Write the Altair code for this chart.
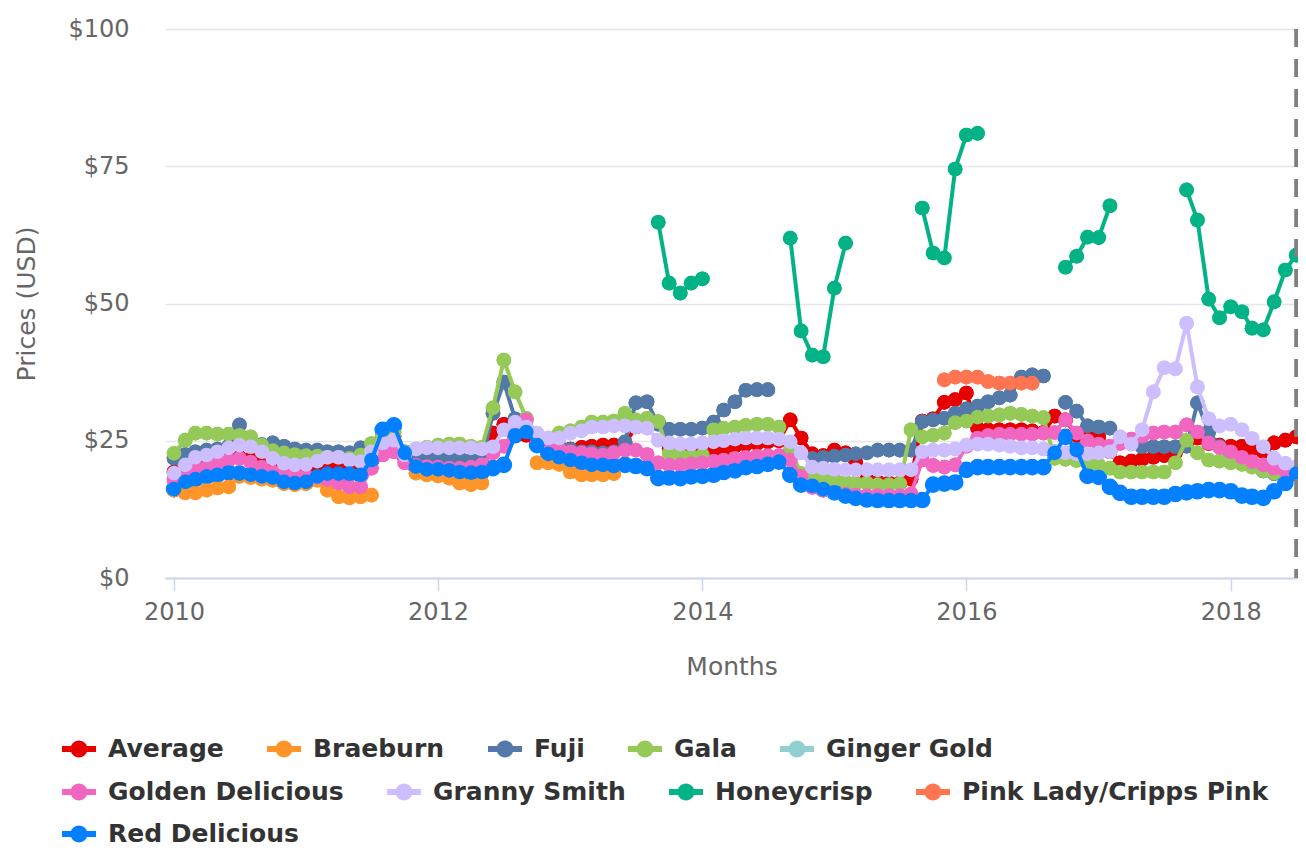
import altair as alt
import pandas as pd

# ---------------- data ----------------
start = pd.Timestamp("2010-01-01")
months = [(start + pd.DateOffset(months=i)).strftime("%Y-%m-%d") for i in range(103)]

series_names = ["Average", "Braeburn", "Fuji", "Gala", "Ginger Gold",
                "Golden Delicious", "Granny Smith", "Honeycrisp",
                "Pink Lady/Cripps Pink", "Red Delicious"]
series_colors = ["#e60000", "#ff9529", "#5279a8", "#95c958", "#90d0d0",
                 "#f066c0", "#cdbfff", "#03b385", "#ff7552", "#0380ff"]
legend_rows = [series_names[0:5], series_names[5:9], series_names[9:10]]

N = None
average = [
    19.3, 20.0, 20.8, 21.0, 21.3, 21.7, 22.0, 21.8, 21.2, 20.5, 20.0, 19.8,
    19.8, 20.0, 20.2, 20.2, 19.8, 19.8, 22.0, 25.5, 25.8, 21.8, 21.0, 21.0,
    21.0, 21.0, 21.0, 21.2, 21.5, 26.4, 28.0, 27.0, 26.0, 24.5, 23.5, 23.3,
    23.5, 23.8, 24.0, 24.2, 24.2, 24.5, 27.5, 28.0, 28.4, 23.5, 23.0, 22.8,
    22.8, 23.0, 23.5, 24.0, 24.3, 24.5, 24.8, 25.0, 28.8, 25.5, 22.6, 22.3,
    23.3, 22.8, 21.0, 18.0, 17.5, 17.3, 17.3, 18.0, 28.6, 29.0, 32.0, 32.5,
    33.7, 27.3, 27.0, 27.0, 27.0, 27.0, 26.8, 26.5, 29.5, 28.8, 26.0, 25.7,
    25.7, 23.0, 21.0, 21.3, 21.6, 22.0, 22.3, 22.8, 24.5, 25.5, 24.5, 24.2,
    24.0, 24.0, 23.5, 23.0, 24.6, 25.1, 25.7]
braeburn = [
    16.0, 15.5, 15.5, 16.0, 16.4, 16.6, 18.5, 18.3, 18.0, 17.8, 17.2, 17.0,
    17.2, 17.8, 16.0, 14.8, 14.6, 14.8, 15.1, N, N, N, 19.1, 18.8,
    18.6, 18.2, 17.3, 17.0, 17.3, N, N, N, N, 21.0, 21.0, 20.7,
    19.3, 18.8, 18.8, 18.8, 19.0, N, N, N, N, N, N, N,
    N, N, N, N, N, N, N, N, N, N, N, N,
    N, N, N, N, N, N, N, N, N, N, N, N,
    N, N, N, N, N, N, N, N, N, N, N, N,
    N, N, N, N, N, N, N, N, N, N, N, N,
    N, N, N, N, N, N, N]
fuji = [
    21.8, 22.5, 23.0, 23.3, 23.5, 24.0, 27.9, 24.5, 24.3, 24.6, 24.0, 23.5,
    23.3, 23.3, 23.0, 23.0, 22.8, 23.7, 23.5, 26.4, 26.6, 22.5, 22.2, 22.0,
    22.0, 21.8, 21.8, 21.5, 21.5, 30.0, 35.7, 29.0, 27.0, 25.5, 24.5, 24.0,
    23.5, 23.0, 23.0, 22.8, 23.0, 24.8, 31.9, 32.1, 28.0, 27.1, 27.1, 27.1,
    27.3, 28.4, 30.6, 32.1, 34.2, 34.3, 34.3, N, N, N, 21.8, 22.0,
    22.2, 22.4, 22.6, 22.8, 23.3, 23.3, 23.3, 23.3, 28.5, 28.8, 29.1, 30.0,
    30.8, 31.3, 32.1, 32.8, 33.3, 36.6, 37.0, 36.8, N, 32.0, 30.4, 27.7,
    27.5, 27.3, 25.1, 24.5, 23.9, 23.9, 23.9, 23.9, 24.0, 31.9, 26.6, 24.0,
    22.5, 21.5, 20.5, 19.5, 19.0, 19.5, 20.0]
gala = [
    22.7, 25.1, 26.4, 26.4, 26.2, 26.2, 26.0, 25.7, 24.2, 23.2, 22.8, 22.5,
    22.3, 22.2, 22.0, 22.0, 21.8, 22.4, 24.5, 26.2, 26.4, 23.0, 23.5, 23.8,
    24.2, 24.4, 24.4, 24.0, 23.8, 31.0, 39.7, 33.9, 29.1, 26.0, 25.5, 26.4,
    26.8, 27.5, 28.4, 28.4, 28.6, 30.0, 28.8, 29.1, 28.5, 22.8, 22.4, 22.2,
    22.4, 27.0, 27.3, 27.5, 27.8, 28.0, 28.0, 27.5, 23.3, 19.0, 18.2, 18.0,
    17.9, 17.5, 17.3, 17.3, 17.0, 17.0, 17.2, 27.0, 25.7, 26.0, 26.4, 28.3,
    28.6, 29.3, 29.5, 29.7, 30.0, 29.8, 29.5, 29.2, 21.8, 21.6, 21.4, 21.0,
    20.6, 20.0, 19.3, 19.3, 19.3, 19.3, 19.3, 21.0, 25.1, 22.8, 21.5, 21.3,
    21.0, 20.7, 20.2, 19.5, 19.1, 19.1, 19.3]
ginger_gold = [N] * 103
golden_delicious = [
    17.9, 19.1, 20.0, 20.2, 20.9, 21.5, 21.8, 21.1, 20.2, 19.3, 18.8, 18.8,
    18.6, 18.4, 17.9, 17.3, 16.6, 16.6, 20.0, 22.4, 23.0, 21.0, 20.5, 20.3,
    20.2, 20.0, 20.0, 20.2, 20.6, 22.8, 24.0, 27.0, 28.8, 24.8, 24.0, 23.5,
    23.0, 22.8, 22.6, 22.4, 22.8, 23.3, 23.3, 22.5, 21.0, 20.6, 20.6, 20.8,
    21.0, 21.3, 21.5, 21.8, 22.0, 22.2, 22.3, 22.3, 21.5, 18.5, 16.5, 16.0,
    15.6, 15.3, 15.1, 15.0, 15.0, 15.0, 15.0, 15.3, 21.5, 20.5, 20.2, 20.6,
    24.0, 25.5, 26.0, 26.2, 26.2, 26.2, 26.2, 26.4, 26.5, 28.8, 26.4, 25.0,
    24.4, 24.0, 24.5, 25.3, 25.8, 26.4, 26.6, 26.6, 27.9, 26.6, 24.6, 23.8,
    23.0, 22.0, 21.2, 20.6, 20.0, 19.5, 19.3]
granny_smith = [
    19.1, 20.6, 22.0, 22.4, 23.0, 23.7, 24.2, 23.9, 23.0, 21.8, 20.9, 20.6,
    20.7, 21.3, 22.0, 22.0, 21.5, 21.2, 23.0, 24.6, 25.1, 22.4, 23.5, 23.7,
    23.7, 23.7, 23.7, 23.7, 23.5, 23.9, 27.0, 28.4, 27.5, 26.4, 25.5, 25.5,
    26.4, 26.8, 27.5, 27.5, 27.7, 27.7, 27.5, 27.3, 25.1, 24.6, 24.4, 24.4,
    24.6, 24.8, 25.0, 25.3, 25.5, 25.5, 25.5, 25.3, 24.8, 22.8, 20.2, 20.0,
    19.8, 19.7, 19.7, 19.7, 19.7, 19.7, 19.7, 19.7, 23.0, 23.3, 23.3, 23.5,
    24.2, 24.4, 24.4, 24.2, 24.0, 23.7, 23.7, 23.5, 23.0, 22.8, 22.6, 22.6,
    22.8, 23.0, 25.7, 24.4, 27.0, 33.9, 38.3, 38.1, 46.4, 34.8, 29.0, 27.7,
    28.0, 27.0, 25.4, 23.9, 21.8, 20.9, 20.2]
honeycrisp = [
    N, N, N, N, N, N, N, N, N, N, N, N,
    N, N, N, N, N, N, N, N, N, N, N, N,
    N, N, N, N, N, N, N, N, N, N, N, N,
    N, N, N, N, N, N, N, N, 64.8, 53.7, 51.9, 53.7,
    54.5, N, N, N, N, N, N, N, 61.9, 45.0, 40.6, 40.3,
    52.8, 61.0, N, N, N, N, N, N, 67.4, 59.2, 58.3, 74.5,
    80.7, 81.0, N, N, N, N, N, N, N, 56.6, 58.6, 62.1,
    62.0, 67.8, N, N, N, N, N, N, 70.7, 65.2, 50.8, 47.4,
    49.4, 48.5, 45.5, 45.2, 50.3, 56.1, 58.8]
pink_lady = [
    N, N, N, N, N, N, N, N, N, N, N, N,
    N, N, N, N, N, N, N, N, N, N, N, N,
    N, N, N, N, N, N, N, N, N, N, N, N,
    N, N, N, N, N, N, N, N, N, N, N, N,
    N, N, N, N, N, N, N, N, N, N, N, N,
    N, N, N, N, N, N, N, N, N, N, 36.1, 36.6,
    36.6, 36.6, 35.8, 35.5, 35.5, 35.5, 35.5, N, N, N, N, N,
    N, N, N, N, N, N, N, N, N, N, N, N,
    N, N, N, N, N, N, N]
red_delicious = [
    16.2, 17.5, 18.0, 18.5, 18.8, 19.2, 19.0, 18.8, 18.5, 18.3, 17.5, 17.3,
    17.5, 18.5, 19.0, 19.0, 19.0, 18.8, 21.5, 27.0, 27.8, 22.8, 20.3, 19.8,
    19.8, 19.6, 19.3, 19.2, 19.3, 20.0, 20.6, 26.0, 26.6, 24.2, 22.6, 22.0,
    21.5, 21.0, 20.6, 20.6, 20.4, 20.6, 20.4, 20.0, 18.2, 18.3, 18.2, 18.5,
    18.6, 18.8, 19.3, 19.6, 20.2, 20.4, 20.8, 21.2, 18.8, 17.0, 16.8, 16.2,
    15.6, 15.0, 14.6, 14.3, 14.2, 14.2, 14.2, 14.2, 14.2, 17.0, 17.2, 17.4,
    19.7, 20.2, 20.2, 20.2, 20.2, 20.2, 20.2, 20.2, 22.8, 25.7, 23.3, 18.6,
    18.4, 16.6, 15.5, 14.8, 14.8, 14.8, 14.8, 15.3, 15.6, 15.8, 16.0, 16.0,
    15.8, 15.0, 14.8, 14.6, 15.8, 17.3, 19.0]

plot_line_dates = ["2018-07-01"]
x_tick_years = [2010, 2012, 2014, 2016, 2018]
y_ticks = [0, 25, 50, 75, 100]

all_values = [average, braeburn, fuji, gala, ginger_gold, golden_delicious,
              granny_smith, honeycrisp, pink_lady, red_delicious]

rows = []
for name, vals in zip(series_names, all_values):
    seg, prev = 0, False
    for d, v in zip(months, vals):
        if v is None:
            if prev:
                seg += 1
            prev = False
            continue
        rows.append({"month": d, "series": name, "price": v, "seg": seg})
        prev = True
df = pd.DataFrame(rows)
color_of = dict(zip(series_names, series_colors))

# ---------------- encodings ----------------
FONT = "DejaVu Sans"
x_enc = alt.X(
    "month:T",
    scale=alt.Scale(type="utc", domain=[alt.DateTime(year=2009, month=12, date=7, utc=True),
                                        alt.DateTime(year=2018, month=7, date=6, utc=True)]),
    axis=alt.Axis(
        values=[alt.DateTime(year=y, month=1, date=1, utc=True) for y in x_tick_years],
        labelExpr="utcFormat(datum.value, '%Y')",
        grid=False, domainColor="#ccd6eb", domainWidth=2,
        tickColor="#ccd6eb", tickWidth=1.5, tickSize=13,
        labelFont=FONT, labelFontSize=24, labelColor="#666666", labelPadding=9,
        title="Months", titleFont=FONT, titleFontSize=25, titleFontWeight="normal",
        titleColor="#666666", titlePadding=30),
)
y_enc = alt.Y(
    "price:Q",
    scale=alt.Scale(domain=[0, 100], nice=False),
    axis=alt.Axis(
        values=y_ticks, labelExpr="'$' + datum.value",
        grid=True, gridColor="#e6e6e6", gridWidth=1.5,
        domain=False, ticks=False, labelPadding=36,
        labelFont=FONT, labelFontSize=24, labelColor="#666666",
        title="Prices (USD)", titleFont=FONT, titleFontSize=25,
        titleFontWeight="normal", titleColor="#666666", titlePadding=28),
)

SYMBOL = ("M-1,-0.17L1,-0.17L1,0.17L-1,0.17Z "
          "M0.5,0A0.5,0.5,0,1,1,-0.5,0A0.5,0.5,0,1,1,0.5,0Z")


def make_legend(y, **extra):
    return alt.Legend(
        title=None, orient="none", legendX=-103, legendY=y, direction="horizontal",
        symbolType=SYMBOL, symbolSize=1156, symbolStrokeWidth=0, symbolOpacity=1,
        labelFont=FONT, labelFontSize=25, labelFontWeight="bold", labelColor="#333333",
        labelLimit=500, labelOffset=12, columnPadding=43, padding=0, **extra)


base = alt.Chart(df)

# legend-carrying layers (one per legend row): the same points, drawn underneath
legend_channels = [alt.Color, alt.Fill, alt.Stroke]
legend_ys = [703, 746, 788]
layers = []
for names, chan, ly in zip(legend_rows, legend_channels, legend_ys):
    cols = [color_of[n] for n in names]
    extra = {}
    mark_kw = {}
    if chan is alt.Stroke:
        extra["symbolFillColor"] = cols[0]
        mark_kw["color"] = cols[0]
    lay = base.transform_filter(
        alt.FieldOneOfPredicate(field="series", oneOf=names)
    ).mark_circle(size=215, opacity=1, clip=True, **mark_kw).encode(
        x=x_enc, y=y_enc,
        **{chan.__name__.lower(): chan("series:N", scale=alt.Scale(domain=names, range=cols),
                                        legend=make_legend(ly, **extra))},
    )
    layers.append(lay)

for name in series_names:
    col = color_of[name]
    sub = base.transform_filter(alt.datum.series == name)
    line = sub.mark_line(strokeWidth=4, strokeJoin="round", strokeCap="round",
                         clip=True, color=col).encode(x=x_enc, y=y_enc, detail="seg:N")
    pts = sub.mark_circle(size=215, opacity=1, clip=True, color=col).encode(x=x_enc, y=y_enc)
    layers += [line, pts]

rule = alt.Chart(pd.DataFrame({"month": plot_line_dates})).mark_rule(
    color="#808080", strokeWidth=4, strokeDash=[18, 12]
).encode(x=alt.X("month:T"))

chart = alt.layer(*layers, rule).properties(
    width=1133, height=549,
    padding={"left": 157, "top": 21, "right": 0, "bottom": 269},
    autosize=alt.AutoSizeParams(type="none"),
    background="white",
).configure_view(strokeWidth=0)

chart.save("out.html", embed_options={"renderer": "svg", "actions": False})
